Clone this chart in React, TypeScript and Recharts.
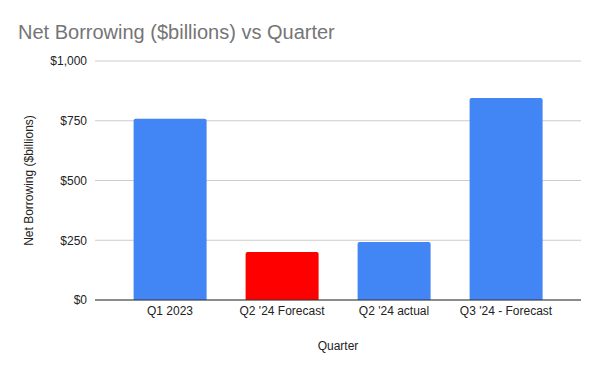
import React from 'react';
import { BarChart, Bar, XAxis, YAxis, CartesianGrid, Cell, Label } from 'recharts';

const categories = ['Q1 2023', "Q2 '24 Forecast", "Q2 '24 actual", "Q3 '24 - Forecast"];
const values = [758, 201, 243, 845];
const colors = ['#4285f4', '#ff0000', '#4285f4', '#4285f4'];
const yTicks = [0, 250, 500, 750, 1000];

const data = categories.map((q, i) => ({ quarter: q, value: values[i] }));

const fmt = (v: number) => '$' + v.toLocaleString('en-US');

export default function App() {
  return (
    <div style={{ position: 'absolute', left: 0, top: 0, width: 600, height: 371, background: '#fff', fontFamily: '"Liberation Sans", Arial, sans-serif' }}>
      <div style={{ position: 'absolute', left: 18, top: 20, fontSize: 20, lineHeight: '24px', color: '#757575', whiteSpace: 'nowrap' }}>
        Net Borrowing ($billions) vs Quarter
      </div>
      <BarChart
        width={600}
        height={371}
        data={data}
        margin={{ top: 61, right: 19, bottom: 0, left: 0 }}
        barCategoryGap="17.5%"
      >
        <CartesianGrid vertical={false} stroke="#cccccc" />
        <XAxis
          dataKey="quarter"
          height={71}
          padding={{ left: 19, right: 19 }}
          tickLine={false}
          tickSize={0}
          axisLine={{ stroke: '#333333' }}
          tick={{ fill: '#222222', fontSize: 12 }}
          tickMargin={6}
          interval={0}
        >
          <Label value="Quarter" position="insideBottom" offset={21} fill="#222222" fontSize={12} />
        </XAxis>
        <YAxis
          width={95}
          domain={[0, 1000]}
          ticks={yTicks}
          tickFormatter={fmt}
          tickLine={false}
          tickSize={0}
          axisLine={false}
          tick={{ fill: '#222222', fontSize: 12 }}
          tickMargin={8}
        >
          <Label value="Net Borrowing ($billions)" angle={-90} position="insideLeft" offset={29} fill="#222222" fontSize={12} style={{ textAnchor: 'middle' }} />
        </YAxis>
        <Bar dataKey="value" isAnimationActive={false} radius={[2, 2, 0, 0]}>
          {data.map((d, i) => (
            <Cell key={d.quarter} fill={colors[i]} />
          ))}
        </Bar>
      </BarChart>
    </div>
  );
}
